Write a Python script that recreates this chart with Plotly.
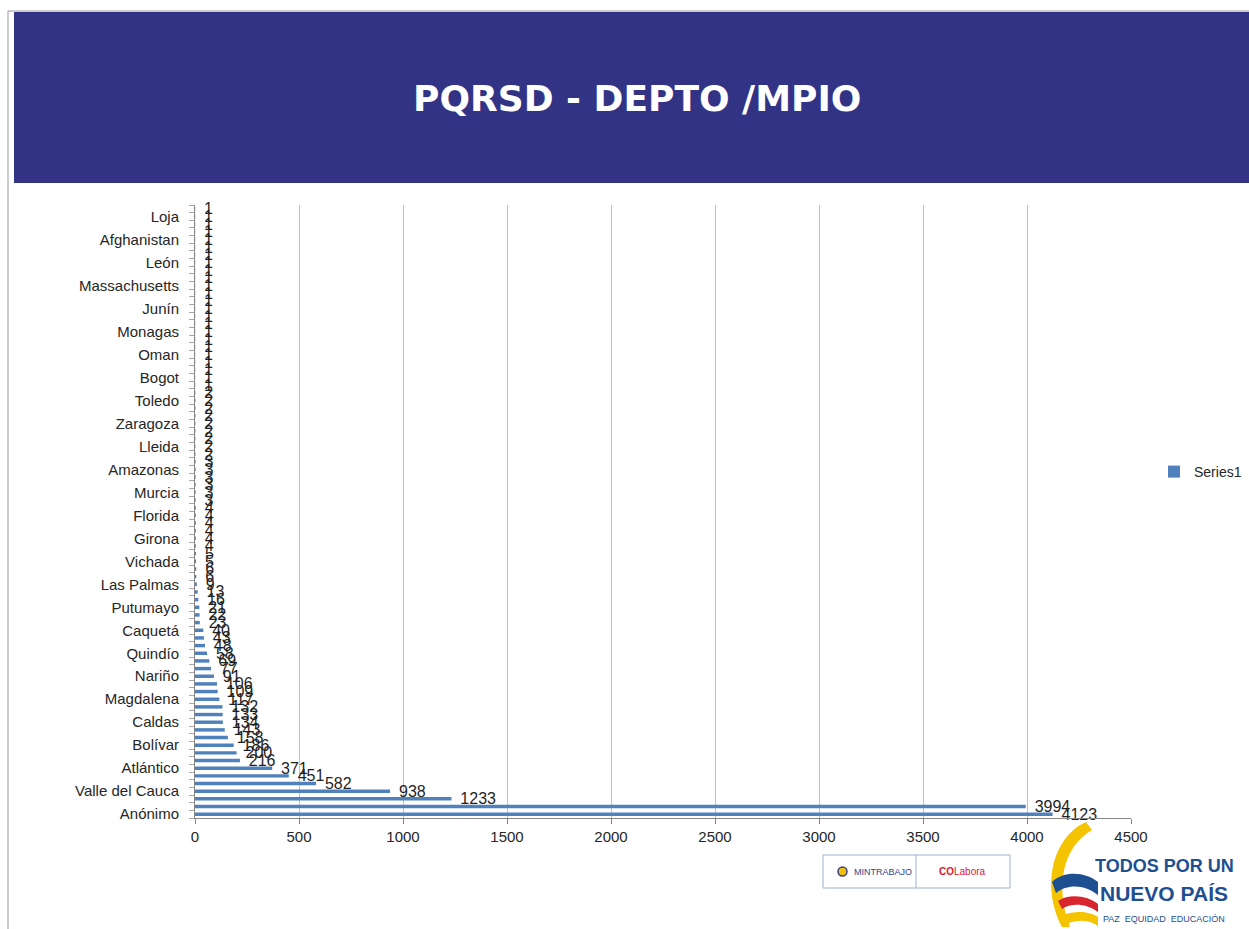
import plotly.graph_objects as go

# ---------------- DATA (bottom -> top, as drawn) ----------------
# Only every third category label is visible in the picture; unseen names are left blank.
categories = [
    "Anónimo", "", "", "Valle del Cauca", "", "", "Atlántico", "", "", "Bolívar",
    "", "", "Caldas", "", "", "Magdalena", "", "", "Nariño", "",
    "", "Quindío", "", "", "Caquetá", "", "", "Putumayo", "", "",
    "Las Palmas", "", "", "Vichada", "", "", "Girona", "", "", "Florida",
    "", "", "Murcia", "", "", "Amazonas", "", "", "Lleida", "",
    "", "Zaragoza", "", "", "Toledo", "", "", "Bogot", "", "",
    "Oman", "", "", "Monagas", "", "", "Junín", "", "", "Massachusetts",
    "", "", "León", "", "", "Afghanistan", "", "", "Loja", "",
]
values = [
    4123, 3994, 1233, 938, 582, 451, 371, 216, 200, 186,
    158, 143, 134, 133, 132, 117, 109, 106, 91, 77,
    69, 58, 48, 43, 40, 23, 22, 21, 16, 13,
    9, 6, 6, 5, 5, 4, 4, 4, 4, 4,
    4, 3, 3, 3, 3, 3, 3, 2, 2, 2,
    2, 2, 2, 2, 2, 2, 1, 1, 1, 1,
    1, 1, 1, 1, 1, 1, 1, 1, 1, 1,
    1, 1, 1, 1, 1, 1, 1, 1, 1, 1,
]
x_ticks = [0, 500, 1000, 1500, 2000, 2500, 3000, 3500, 4000, 4500]
series_name = "Series1"
title_text = "PQRSD - DEPTO /MPIO"

# ---------------- LAYOUT HELPERS ----------------
W, H = 1249, 929
L, R, T, B = 195, 118, 205, 111
PW, PH = W - L - R, H - T - B


def px(x):
    return (x - L) / PW


def py(y):
    return (H - B - y) / PH


def path(cmds):
    out = []
    for c in cmds:
        if isinstance(c, str):
            out.append(c)
        else:
            out.append(f"{px(c[0]):.5f},{py(c[1]):.5f}")
    return " ".join(out)


positions = list(range(len(categories)))
tickvals = [i for i, c in enumerate(categories) if c]
ticktext = [categories[i] for i in tickvals]

AXFONT = "Liberation Sans, Arial, sans-serif"

fig = go.Figure(
    go.Bar(
        x=values,
        y=positions,
        orientation="h",
        name=series_name,
        marker=dict(color="#4f81bd", line=dict(width=0)),
        text=[str(v) for v in values],
        texttemplate="\u00a0\u00a0%{text}",
        textposition="outside",
        constraintext="none",
        cliponaxis=False,
        textfont=dict(family=AXFONT, size=16, color="#1f1f1f"),
        hoverinfo="skip",
        showlegend=True,
    )
)

shapes = []
# slide border lines
shapes.append(dict(type="line", xref="paper", yref="paper", x0=px(8), x1=px(8), y0=py(11), y1=py(929),
                   line=dict(color="#9a9a9a", width=1), layer="above"))
shapes.append(dict(type="line", xref="paper", yref="paper", x0=px(8), x1=px(1249), y0=py(11), y1=py(11),
                   line=dict(color="#9a9a9a", width=1), layer="above"))
# title banner
shapes.append(dict(type="rect", xref="paper", yref="paper", x0=px(14), x1=px(1252), y0=py(183), y1=py(12),
                   fillcolor="#333385", line=dict(width=0), layer="below"))
# logo box
shapes.append(dict(type="rect", xref="paper", yref="paper", x0=px(823), x1=px(1010), y0=py(888), y1=py(855),
                   fillcolor="white", line=dict(color="#9fb0d0", width=1)))
shapes.append(dict(type="line", xref="paper", yref="paper", x0=px(916), x1=px(916), y0=py(888), y1=py(855),
                   line=dict(color="#9fb0d0", width=1)))
shapes.append(dict(type="circle", xref="paper", yref="paper", x0=px(838), x1=px(847), y0=py(876), y1=py(867),
                   fillcolor="#f2c200", line=dict(color="#3a3f8f", width=1.5)))
# swoosh of the "Todos por un nuevo país" logo
shapes.append(dict(type="path", xref="paper", yref="paper", fillcolor="#f5c400", line=dict(width=0),
                   path=path(["M", (1086, 822), "C", (1054, 836), (1040, 884), (1062, 927), "L", (1070, 927),
                              "C", (1054, 884), (1064, 846), (1092, 830), "Z"])))
shapes.append(dict(type="path", xref="paper", yref="paper", fillcolor="#1d4f91", line=dict(width=0),
                   path=path(["M", (1052, 882), "C", (1064, 870), (1086, 872), (1098, 882), "L", (1098, 895),
                              "C", (1086, 885), (1068, 883), (1056, 893), "Z"])))
shapes.append(dict(type="path", xref="paper", yref="paper", fillcolor="#d8262e", line=dict(width=0),
                   path=path(["M", (1058, 901), "C", (1070, 893), (1088, 896), (1098, 904), "L", (1098, 912),
                              "C", (1088, 904), (1072, 902), (1062, 909), "Z"])))
shapes.append(dict(type="path", xref="paper", yref="paper", fillcolor="#f5c400", line=dict(width=0),
                   path=path(["M", (1064, 915), "C", (1076, 910), (1090, 912), (1098, 917), "L", (1098, 926),
                              "C", (1090, 920), (1077, 919), (1067, 924), "Z"])))

annotations = [
    dict(text=f"<b>{title_text}</b>", x=px(637), y=py(99), xref="paper", yref="paper", showarrow=False,
         font=dict(family="DejaVu Sans, Verdana, sans-serif", size=36, color="white"),
         xanchor="center", yanchor="middle"),
    dict(text="MINTRABAJO", x=px(852), y=py(872), xref="paper", yref="paper", showarrow=False,
         font=dict(family="Liberation Sans, Arial", size=9, color="#3a3f8f"),
         xanchor="left", yanchor="middle"),
    dict(text="<b>CO</b>Labora", x=px(962), y=py(871), xref="paper", yref="paper", showarrow=False,
         font=dict(family="Liberation Sans, Arial", size=10, color="#e0162b"),
         xanchor="center", yanchor="middle"),
    dict(text="<b>TODOS POR UN</b>", x=px(1164), y=py(866), xref="paper", yref="paper", showarrow=False,
         font=dict(family="Liberation Sans, Arial", size=18, color="#1d4f91"),
         xanchor="center", yanchor="middle"),
    dict(text="<b>NUEVO PAÍS</b>", x=px(1164), y=py(893), xref="paper", yref="paper", showarrow=False,
         font=dict(family="Liberation Sans, Arial", size=21, color="#1d4f91"),
         xanchor="center", yanchor="middle"),
    dict(text="PAZ  EQUIDAD  EDUCACIÓN", x=px(1164), y=py(919), xref="paper", yref="paper", showarrow=False,
         font=dict(family="Liberation Sans, Arial", size=9, color="#1d4f91"),
         xanchor="center", yanchor="middle"),
]

fig.update_layout(
    width=W,
    height=H,
    margin=dict(l=L, r=R, t=T, b=B, autoexpand=False),
    paper_bgcolor="white",
    plot_bgcolor="white",
    bargap=0.55,
    font=dict(family=AXFONT, color="#262626"),
    showlegend=True,
    hovermode=False,
    legend=dict(x=px(1154), y=py(472), xanchor="left", yanchor="middle", xref="paper", yref="paper",
                font=dict(family=AXFONT, size=14, color="#262626"), bgcolor="rgba(0,0,0,0)",
                itemwidth=30, borderwidth=0),
    shapes=shapes,
    annotations=annotations,
    xaxis=dict(
        range=[0, 4500],
        tickmode="array",
        tickvals=x_ticks,
        ticktext=[str(v) for v in x_ticks],
        showgrid=True,
        gridcolor="#bfbfbf",
        gridwidth=1,
        zeroline=False,
        showline=True,
        linecolor="#868686",
        linewidth=1,
        ticks="outside",
        ticklen=5,
        tickcolor="#868686",
        tickfont=dict(family=AXFONT, size=15, color="#262626"),
        fixedrange=True,
    ),
    yaxis=dict(
        range=[-0.5, len(categories) - 0.5],
        tickmode="array",
        tickvals=tickvals,
        ticktext=ticktext,
        ticks="",
        showgrid=False,
        zeroline=False,
        showline=True,
        linecolor="#868686",
        linewidth=1,
        ticklabelstandoff=12,
        tickfont=dict(family=AXFONT, size=15, color="#262626"),
        minor=dict(tickmode="array", tickvals=[i - 0.5 for i in range(len(categories) + 1)],
                   ticks="outside", ticklen=5, tickcolor="#a6a6a6", showgrid=False),
        fixedrange=True,
    ),
)

fig.write_html(
    "out.html",
    config={"displayModeBar": False, "staticPlot": True},
    post_script="document.body.style.margin='0';document.body.style.overflow='hidden';",
)
